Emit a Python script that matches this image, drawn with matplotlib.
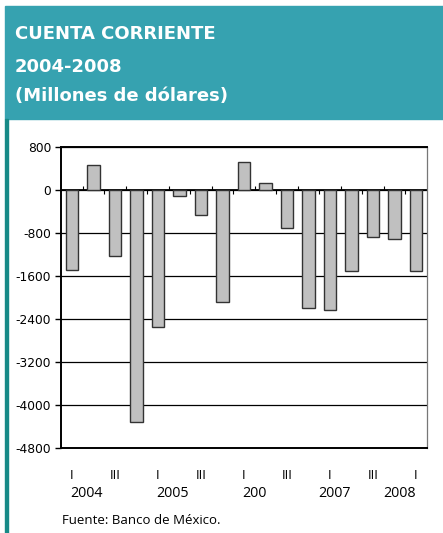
import matplotlib
matplotlib.use('Agg')
import matplotlib.pyplot as plt
import matplotlib.transforms as mtransforms
import numpy as np

# quarterly current account, 2004 Q1 - 2008 Q1 (millions of dollars)
quarters = ['I', 'II', 'III', 'IV'] * 4 + ['I']
values = [-1480, 470, -1235, -4330,
          -2550, -100, -470, -2080,
          530, 135, -700, -2195,
          -2225, -1505, -875, -905,
          -1505]
year_labels = ['2004', '2005', '200', '2007', '2008']
year_label_x = [0.7, 4.7, 8.5, 12.2, 15.25]
yticks = np.arange(-4800, 801, 800)

teal = '#36a2b0'
teal_dark = '#178a87'
W, H = 443, 533

fig = plt.figure(figsize=(W / 100, H / 100), dpi=100)
fig.patch.set_facecolor('white')

# header band and left rule
fig.patches.append(plt.Rectangle((5 / W, 1 - 119 / H), 1 - 5 / W, 113 / H,
                                 transform=fig.transFigure, color=teal, zorder=0))
fig.patches.append(plt.Rectangle((5 / W, 0), 3 / W, 1 - 119 / H,
                                 transform=fig.transFigure, color=teal_dark, zorder=0))

hfont = dict(family='DejaVu Sans', weight='bold', size=13, color='white', va='baseline')
fig.text(15 / W, 1 - 39 / H, 'CUENTA CORRIENTE', **hfont)
fig.text(15 / W, 1 - 71.7 / H, '2004-2008', **hfont)
fig.text(15 / W, 1 - 101 / H, '(Millones de dólares)', **hfont)

ax = fig.add_axes([61 / W, 1 - 447.7 / H, 365.7 / W, 300.4 / H])
x = np.arange(len(values))
ax.bar(x, values, width=0.58, color='#c0c0c0', edgecolor='#333333', linewidth=1, zorder=3)

ax.set_xlim(-0.5, len(values) - 0.5)
ax.set_ylim(yticks[0], yticks[-1])
ax.set_yticks(yticks)
ax.set_yticklabels([str(v) for v in yticks], family='DejaVu Sans', fontsize=8.8)
ax.tick_params(axis='y', length=4, width=1, pad=3)
ax.yaxis.grid(True, color='black', linewidth=0.9, zorder=0)
ax.axhline(0, color='black', linewidth=1.3, zorder=2)

# small category ticks on the zero line, alternating sides
bounds = np.arange(len(values) - 1) + 0.5
up = bounds[::2]
down = bounds[1::2]
ax.vlines(up, 0, 75, color='black', linewidth=0.8, zorder=2)
ax.vlines(down, -75, 0, color='black', linewidth=0.8, zorder=2)

# quarter labels every second category
ax.set_xticks(x[::2])
ax.set_xticklabels([quarters[i] for i in x[::2]], family='Open Sans', fontsize=9.5)
ax.tick_params(axis='x', length=0, pad=15)

trans = mtransforms.blended_transform_factory(ax.transData, ax.transAxes)
for lab, xp in zip(year_labels, year_label_x):
    ax.text(xp, -46 / 300.4, lab, transform=trans, ha='center', va='center',
            family='Open Sans', fontsize=10.3)

for s in ['left', 'bottom', 'top']:
    ax.spines[s].set_color('black')
    ax.spines[s].set_linewidth(1.4)
ax.spines['right'].set_color('#777777')
ax.spines['right'].set_linewidth(0.9)

fig.text(62 / W, 1 - 521 / H, 'Fuente: Banco de México.', family='Open Sans',
         fontsize=9.5, va='center')

fig.savefig('out.png', dpi=100)
